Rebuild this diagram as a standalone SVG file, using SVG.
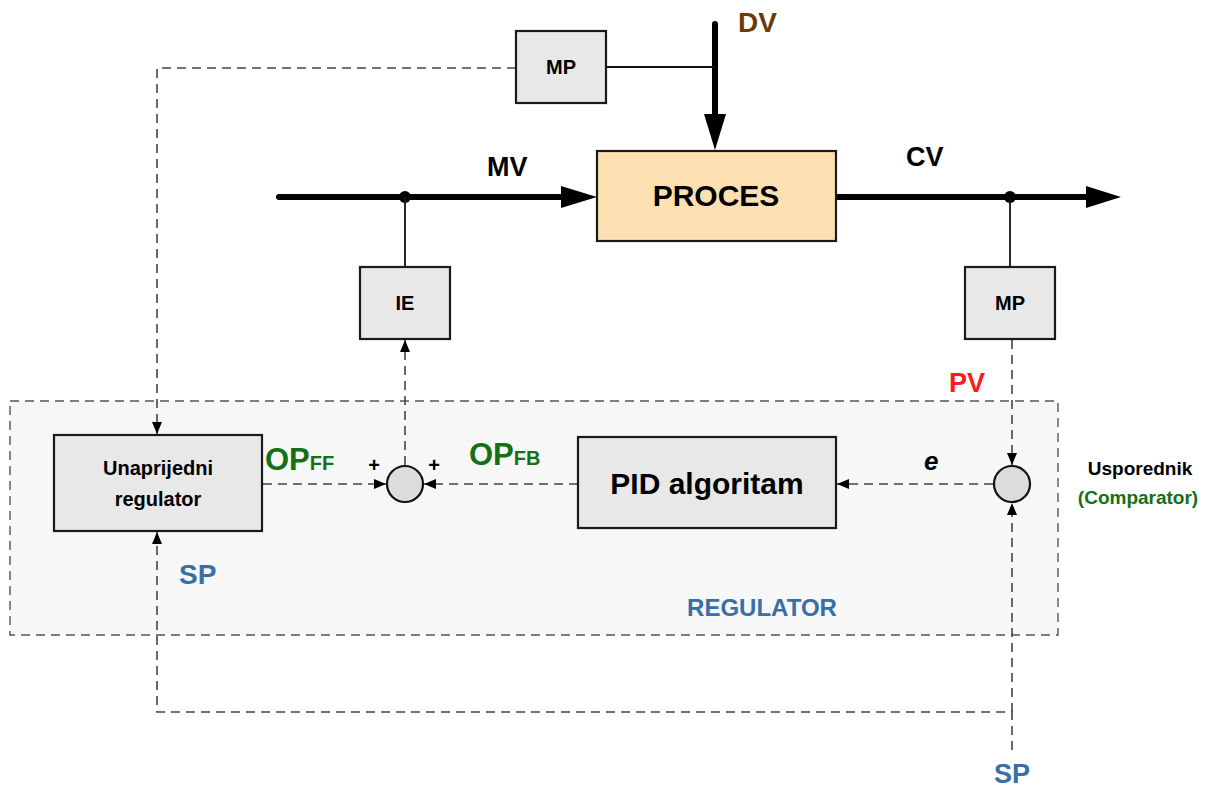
<svg xmlns="http://www.w3.org/2000/svg" width="1232" height="789" viewBox="0 0 1232 789">
<defs>
<style>
text{font-family:"Liberation Sans",Arial,sans-serif;font-weight:bold}
.box{fill:#e8e8e8;stroke:#1a1a1a;stroke-width:2.2}
.dash{fill:none;stroke:#444;stroke-width:1.6;stroke-dasharray:9,6}
.thick{fill:none;stroke:#000;stroke-width:6;stroke-linecap:round}
.thin{fill:none;stroke:#111;stroke-width:1.8}
.sum{fill:#dcdcdc;stroke:#111;stroke-width:2.2}
.lbl{font-size:27px;fill:#000}
.green{fill:#147014}
.blue{fill:#376fa6}
</style>
<marker id="sa" viewBox="0 0 12 10" refX="12" refY="5" markerWidth="12" markerHeight="10" markerUnits="userSpaceOnUse" orient="auto"><path d="M0,0 L12,5 L0,10 Z" fill="#000"/></marker>
</defs>
<rect width="1232" height="789" fill="#fff"/>
<g id="regulator">
<rect x="10" y="401" width="1048" height="234" fill="#f7f7f7" stroke="#555" stroke-width="1.4" stroke-dasharray="9,6"/>
<text x="762" y="616" font-size="24" text-anchor="middle" class="blue">REGULATOR</text>
</g>
<g id="connectors">
<path class="thick" d="M715,24 V116"/>
<path d="M704,114 L715,150 L726,114 Z" fill="#000"/>
<path class="thick" d="M279,197 H563"/>
<path d="M561,186 L597,197 L561,208 Z" fill="#000"/>
<path class="thick" d="M837,197 H1088"/>
<path d="M1086,186 L1121,197 L1086,208 Z" fill="#000"/>
<circle cx="405" cy="197" r="6" fill="#000"/>
<circle cx="1010" cy="197" r="6" fill="#000"/>
<path class="thin" d="M606,67 H715"/>
<path class="thin" d="M405,197 V267"/>
<path class="thin" d="M1010,197 V267"/>
<path class="dash" d="M516,68 H157 V434" marker-end="url(#sa)"/>
<path class="dash" d="M405,465 V340" marker-end="url(#sa)"/>
<path class="dash" d="M1012,340 V465" marker-end="url(#sa)"/>
<path class="dash" d="M993,484 H837" marker-end="url(#sa)"/>
<path class="dash" d="M578,484 H424" marker-end="url(#sa)"/>
<path class="dash" d="M263,484 H386" marker-end="url(#sa)"/>
<path class="dash" d="M1012,750 V712 H157 V532" marker-end="url(#sa)"/>
<path class="dash" d="M1012,712 V503" marker-end="url(#sa)"/>
</g>
<g id="mp-top">
<rect class="box" x="516" y="31" width="90" height="72"/>
<text x="561" y="74" font-size="20" text-anchor="middle">MP</text>
</g>
<g id="proces">
<rect x="597" y="151" width="239" height="90" fill="#fce0b2" stroke="#1a1a1a" stroke-width="2.2"/>
<text x="716" y="206" font-size="30" text-anchor="middle">PROCES</text>
</g>
<g id="ie">
<rect class="box" x="360" y="267" width="90" height="72"/>
<text x="405" y="310" font-size="20" text-anchor="middle">IE</text>
</g>
<g id="mp-right">
<rect class="box" x="965" y="267" width="90" height="72"/>
<text x="1010" y="310" font-size="20" text-anchor="middle">MP</text>
</g>
<g id="unaprijedni">
<rect class="box" x="54" y="435" width="208" height="96"/>
<text x="158" y="475" font-size="20" text-anchor="middle">Unaprijedni</text>
<text x="158" y="506" font-size="20" text-anchor="middle">regulator</text>
</g>
<g id="pid">
<rect class="box" x="578" y="437" width="258" height="91"/>
<text x="707" y="494" font-size="30" text-anchor="middle">PID algoritam</text>
</g>
<g id="sum">
<circle class="sum" cx="405" cy="484" r="18"/>
<text x="374" y="472" font-size="20" text-anchor="middle">+</text>
<text x="434" y="472" font-size="20" text-anchor="middle">+</text>
</g>
<g id="comparator">
<circle class="sum" cx="1012" cy="484" r="18"/>
<text x="1140" y="475" font-size="19" text-anchor="middle">Usporednik</text>
<text x="1138" y="504" font-size="19" text-anchor="middle" class="green">(Comparator)</text>
</g>
<g id="labels">
<text x="738" y="32" font-size="28" fill="#6b3a08">DV</text>
<text x="487" y="176" class="lbl">MV</text>
<text x="906" y="166" class="lbl">CV</text>
<text x="949" y="392" font-size="27" fill="#ff1a1a">PV</text>
<text x="924" y="470" font-size="26" font-style="italic">e</text>
<text x="265" y="470" font-size="31" class="green">OP<tspan font-size="20">FF</tspan></text>
<text x="469" y="465" font-size="31" class="green">OP<tspan font-size="20">FB</tspan></text>
<text x="179" y="584" font-size="28" class="blue">SP</text>
<text x="994" y="783" font-size="27" class="blue">SP</text>
</g>
</svg>
